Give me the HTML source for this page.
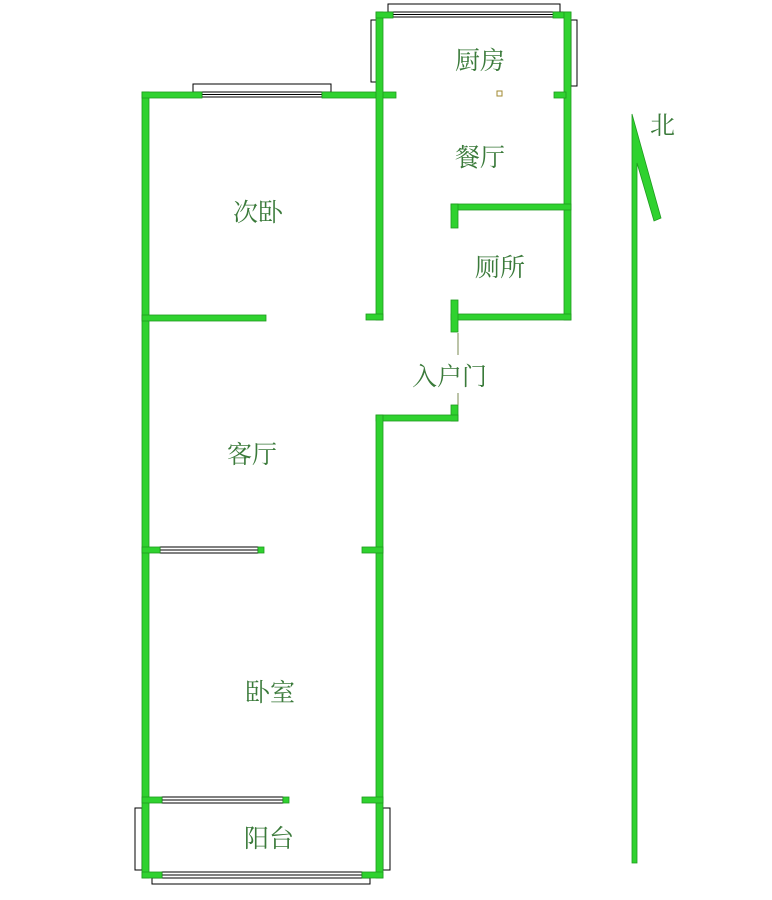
<!DOCTYPE html>
<html><head><meta charset="utf-8"><style>
html,body{margin:0;padding:0;background:#fff;width:772px;height:900px;overflow:hidden}
text{font-family:"Liberation Serif","Noto Serif CJK SC","Noto Sans CJK SC",serif;fill:#3a7a3a;font-size:25px}
</style></head><body>
<svg width="772" height="900" viewBox="0 0 772 900" xmlns="http://www.w3.org/2000/svg">
<g fill="#fff" stroke="#000" stroke-width="1">
<rect x="193" y="84" width="138" height="8"/>
<rect x="202" y="92" width="120" height="5"/>
<line x1="202" y1="94.5" x2="322" y2="94.5"/>
<rect x="388" y="4" width="172" height="8"/>
<rect x="393" y="12" width="170" height="5"/>
<line x1="393" y1="14.5" x2="563" y2="14.5"/>
<rect x="371" y="20" width="6" height="62"/>
<rect x="377" y="30" width="5" height="50"/>
<rect x="571" y="20" width="6" height="66"/>
<rect x="566" y="30" width="5" height="50"/>
<rect x="160" y="547" width="98" height="6"/>
<line x1="160" y1="550" x2="258" y2="550"/>
<rect x="162" y="797" width="121" height="6"/>
<line x1="162" y1="800" x2="283" y2="800"/>
<rect x="135" y="808" width="7" height="62"/>
<rect x="142" y="815" width="5" height="50"/>
<rect x="383" y="808" width="7" height="62"/>
<rect x="378" y="815" width="5" height="50"/>
<rect x="152" y="878" width="218" height="6"/>
<rect x="162" y="872" width="200" height="6"/>
<line x1="162" y1="875" x2="362" y2="875"/>
</g>
<g fill="#2fd22f" stroke="#1f9a1f" stroke-width="0.8">
<rect x="142" y="92" width="7" height="786"/>
<rect x="142" y="92" width="60" height="6"/>
<rect x="322" y="92" width="74" height="6"/>
<rect x="376" y="12" width="7" height="308"/>
<rect x="376" y="12" width="17" height="6"/>
<rect x="553" y="12" width="18" height="6"/>
<rect x="564" y="12" width="7" height="308"/>
<rect x="554" y="92" width="12" height="6"/>
<rect x="451" y="204" width="120" height="6"/>
<rect x="451" y="204" width="7" height="24"/>
<rect x="451" y="314" width="120" height="6"/>
<rect x="451" y="300" width="7" height="32"/>
<rect x="142" y="315" width="124" height="6"/>
<rect x="366" y="314" width="17" height="6"/>
<rect x="451" y="405" width="7" height="16"/>
<rect x="376" y="415" width="82" height="6"/>
<rect x="376" y="415" width="7" height="463"/>
<rect x="142" y="547" width="18" height="6"/>
<rect x="258" y="547" width="6" height="6"/>
<rect x="362" y="547" width="21" height="6"/>
<rect x="142" y="797" width="20" height="6"/>
<rect x="283" y="797" width="6" height="6"/>
<rect x="362" y="797" width="21" height="6"/>
<rect x="142" y="872" width="20" height="6"/>
<rect x="362" y="872" width="21" height="6"/>
<polygon points="632,114 661,218 654,221 637,163 637,863 632,863"/>
</g>
<line x1="458" y1="333" x2="458" y2="355" stroke="#7a8a50" stroke-width="1"/>
<line x1="458" y1="393" x2="458" y2="405" stroke="#7a8a50" stroke-width="1"/>
<rect x="497" y="91" width="5" height="5" fill="none" stroke="#a08a30" stroke-width="1"/>
<text x="455" y="69">厨房</text>
<text x="455" y="166">餐厅</text>
<text x="233" y="221">次卧</text>
<text x="475" y="276">厕所</text>
<text x="412" y="385">入户门</text>
<text x="227" y="463">客厅</text>
<text x="245" y="701">卧室</text>
<text x="244" y="847">阳台</text>
<text x="650" y="134">北</text>
</svg>
</body></html>
